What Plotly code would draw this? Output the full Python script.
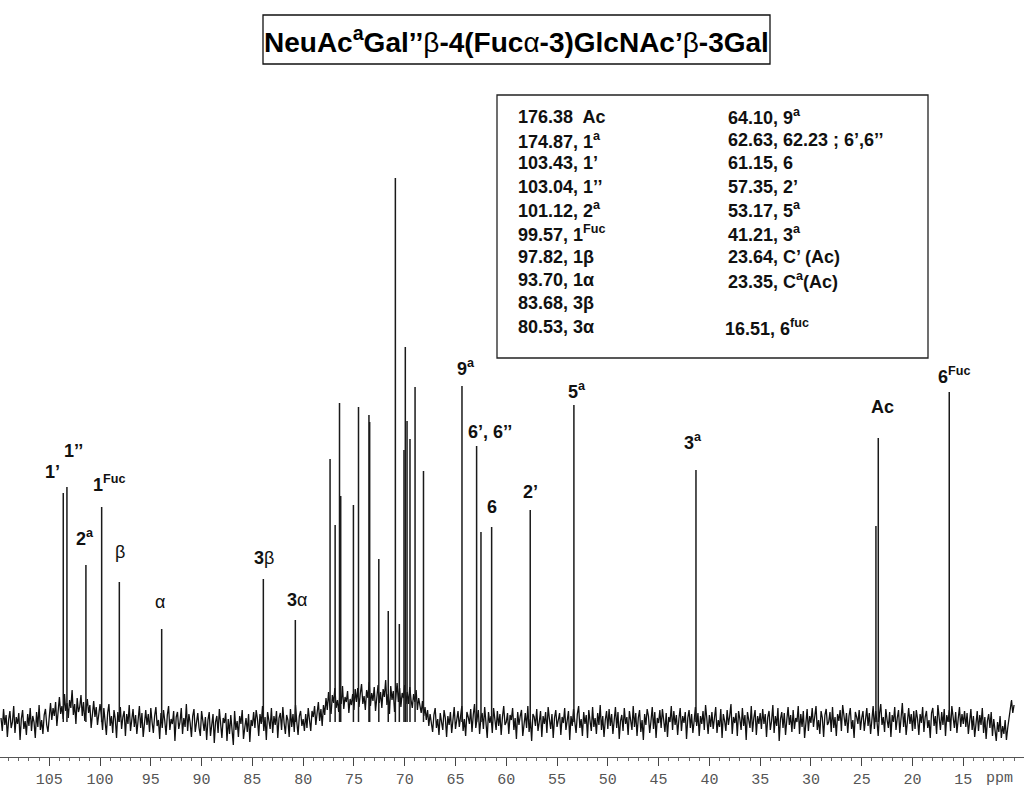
import numpy as np
import plotly.graph_objects as go

# ---------------- data ----------------
# peak positions (ppm, as drawn) and heights (intensity above baseline, arbitrary units)
peak_ppm = [103.62, 103.26, 101.39, 99.84, 98.10, 93.93, 83.92, 80.77,
            77.35, 76.85, 76.42, 76.30, 75.05, 74.55, 73.52, 73.45, 72.55, 71.62,
            70.92, 70.53, 70.07, 69.94, 69.77, 69.48, 68.98, 68.15,
            64.36, 62.92, 62.49, 61.44, 57.64, 53.34, 41.32, 23.60, 23.37, 16.38]
peak_height = [229, 235, 157, 215, 140, 93, 143, 102,
               263, 197, 319, 226, 217, 315, 307, 300, 163, 111,
               544, 98, 272, 375, 301, 283, 335, 251,
               336, 276, 190, 195, 212, 317, 252, 196, 284, 330]

# baseline noise, read every 0.125 ppm from 109.75 to 10.00 ppm
noise_start_ppm = 109.75
noise_end_ppm = 10.0
noise = [
    4, -9, 13, -3, 7, -15, 2, 11, -6, 0, 16, -11, 5, -2, 9, -18, 3, 12, -7, 1,
    -13, 8, -4, 14, -9, 6, 0, -16, 10, -5, 17, -8, 2, -12, 7, 13, -3, -10, 5, 19,
    2, 14, 6, 20, -4, 12, 25, 8, 16, 3, 28, 11, 19, 4, 22, 14, 32, 7, 18, -2,
    24, 10, 15, 27, 6, 20, 1, 13, 23, 9, 17, -6, 12, 21, 5, 15, -3, 10, 18, 7,
    -8, 14, 2, -13, 9, 18, -4, 6, -11, 12, 3, -16, 10, 0, 15, -7, 5, 11, -14, 8,
    -2, 17, -9, 4, 13, -5, 7, -12, 1, 16, -6, 9, -15, 3, 12, -3, 8, -10, 14, 0,
    -11, 6, 15, -4, 2, -17, 9, -6, 12, 1, -13, 7, 16, -8, 3, -2, 11, -19, 5, 10,
    -7, 0, 14, -12, 4, -5, 18, -9, 8, -1, -15, 6, 13, -10, 2, 9, -6, -14, 11, 3,
    -9, 5, -18, 2, 10, -14, -3, 8, -21, 0, 6, -11, 13, -7, -16, 4, -1, 9, -19, 3,
    -12, 7, -5, -23, 11, -8, 1, -15, 6, -2, 12, -17, -6, 4, -10, 8, -20, 2, -4, 10,
    -6, 12, 3, -14, 8, -2, 16, -9, 5, -18, 10, 1, -7, 14, -11, 6, -3, 11, -16, 4,
    9, -8, 15, -1, -12, 7, 2, -15, 13, -5, 8, -10, 17, 0, -13, 6, 11, -4, 3, -9,
    8, -6, 14, 2, -9, 11, 5, 16, -3, 9, 20, 1, 13, -4, 17, 7,
    24, 12, 30, 16, 8, 27, 19, 34, 14, 22, 10, 29, 18, 36, 13, 25, 20, 31, 9, 23, 17, 28, 12, 33,
    20, 34, 15, 28, 38, 18, 26, 12, 32, 24, 40, 16, 29, 21, 35, 11, 27, 37, 19, 30,
    14, 33, 25, 42, 17, 28, 8, 36, 22, 31, 10, 26, 39, 20, 34, 15, 29, 24, 37, 18,
    30, 18, 35, 22, 14, 28, 20, 32, 12, 24, 17, 9, 21, 6, 15, 2, 12, -4, 8, 1,
    -10, 7, 14, -6, 3, -13, 9, 0, -8, 12, 4, -15, 6, -3, 10, -11, 2, 15, -7, 5,
    11, -5, 8, 16, -9, 3, -14, 10, 5, -2, 13, -10, 7, 18, -6, 1, 12, -12, 4, 9,
    -7, 15, 2, -16, 10, -1, 6, -11, 14, 3, -8, 11, -4, 8, -13, 5, 16, -3, 0, 9,
    -12, 7, 2, 14, -8, 4, -17, 10, -3, 6, 12, -14, 1, 9, -6, 16, -10, 3, -19, 8,
    5, -4, 13, -9, 0, 11, -15, 6, -2, 10, -11, 15, 3, -7, 8, -16, 4, 12, -5, 1,
    9, -13, 5, -1, 14, -8, 2, 11, -18, 6, -4, 13, 0, -11, 8, 16, -6, 3, -14, 10,
    -2, 7, -16, 12, 1, -9, 15, -5, 4, -12, 9, -3, 17, -8, 6, -15, 2, 11, -7, 13,
    -4, 8, -12, 3, 15, -6, 10, -17, 1, 7, -9, 14, -2, 5, -13, 11, 0, -8, 16, -5,
    9, -14, 4, 12, -10, 2, -18, 8, -3, 13, 6, -11, 1, 15, -7, 10, -16, 4, -1, 12,
    -6, 13, 2, -10, 9, -15, 5, 0, 16, -8, 11, -3, 7, -13, 3, 14, -9, 6, -1, 10,
    -17, 4, 12, -6, 8, -11, 1, 15, -4, 9, -14, 6, -2, 11, -8, 17, 3, -12, 7, -5,
    10, -7, 4, 15, -11, 2, -5, 13, -16, 8, 1, -9, 12, -3, 6, 18, -12, 5, -1, 9,
    -14, 11, 3, -8, 14, -4, 7, -18, 10, 0, -6, 16, -10, 4, 12, -13, 6, -2, 9, -7,
    13, -2, 8, -15, 5, 11, -8, 1, 17, -11, 6, -4, 14, -19, 3, 10, -6, 9, -13, 2,
    15, -3, 7, -10, 12, -7, 4, 0, 16, -12, 8, -5, 11, -16, 3, 13, -9, 6, -1, 14,
    -5, 9, 16, -8, 2, -12, 11, 4, -15, 7, 13, -3, 0, 10, -10, 15, -6, 5, -14, 8,
    1, 12, -9, 17, 3, -4, 9, -11, 6, 14, -7, 2, -16, 10, 5, -2, 12, -8, 4, 11,
    -9, 6, 14, -4, 9, -12, 3, 16, -7, 11, 1, -14, 8, 18, -3, 5, -10, 13, 2, -6,
    10, -15, 7, 0, 15, -8, 4, 12, -11, 6, 19, -5, 9, -13, 3, 14, -2, 8, -9, 11,
    -7, 12, 3, -13, 8, -1, 15, -10, 5, 11, -6, 2, -16, 9, 14, -4, 6, -12, 17, 1,
    -8, 10, -3, 13, -14, 7, 0, 12, -9, 16, 4, -6, 10, -11, 3, 15, -5, 8, -2, 11,
    -5, 9, -12, 4, 13, -8, 6, -15, 2, 11, -9, 7, -3, 14, -11, 5, -17, 1, 8, -6,
    10, -14, 3, -7, -19, 0, -10, 6, -16, -4, -12, 2, -18, -6, 5, 15, 22, 9, 17,
]

tick_values = [105, 100, 95, 90, 85, 80, 75, 70, 65, 60, 55, 50, 45, 40, 35, 30, 25, 20, 15]
tick_labels = [str(v) for v in tick_values]

# peak labels: text, ppm, intensity
label_text = ["1’", "1’’", "1<sup>Fuc</sup>", "2<sup>a</sup>", "β", "α", "<b>3</b>β", "<b>3</b>α",
              "9<sup>a</sup>", "6’, 6’’", "6", "2’", "5<sup>a</sup>", "3<sup>a</sup>", "Ac", "6<sup>Fuc</sup>"]
label_ppm = [104.64, 102.57, 99.12, 101.44, 97.99, 94.10, 83.86, 80.56,
             63.97, 61.61, 61.41, 57.57, 53.05, 41.57, 23.0, 15.87]
label_int = [250, 271, 239, 185, 170, 120, 164, 122,
             355, 290, 215, 230, 332, 281, 315, 347]
label_bold = [True, True, True, True, False, False, False, False,
              True, True, True, True, True, True, True, True]

title_text = ("<b>NeuAc<sup>a</sup>Gal’’</b>β<b>-4(Fuc</b>α<b>-3)GlcNAc’</b>β<b>-3Gal</b>")

table_left = ["176.38  Ac", "174.87, 1<sup>a</sup>", "103.43, 1’", "103.04, 1’’", "101.12, 2<sup>a</sup>",
              "99.57, 1<sup>Fuc</sup>", "97.82, 1β", "93.70, 1α", "83.68, 3β", "80.53, 3α"]
table_right = ["64.10, 9<sup>a</sup>", "62.63, 62.23 ; 6’,6’’", "61.15, 6", "57.35, 2’", "53.17, 5<sup>a</sup>",
               "41.21, 3<sup>a</sup>", "23.64, C’ (Ac)", "23.35, C<sup>a</sup>(Ac)", "", "16.51, 6<sup>fuc</sup>"]

# ---------------- figure ----------------
W, H = 1024, 808
M_B = 51
PLOT_H = H - M_B
X_RANGE = [109.85, 9.02]
Y_RANGE = [-35, PLOT_H - 35]

def px_x(px):
    return px / W

def px_y(py):
    return 1 - py / PLOT_H

fig = go.Figure()

noise_x = np.linspace(noise_start_ppm, noise_end_ppm, len(noise))
fig.add_trace(go.Scatter(x=noise_x, y=noise, mode="lines",
                         line=dict(color="#101010", width=1.3), hoverinfo="skip"))

px_list, py_list = [], []
for p, h in zip(peak_ppm, peak_height):
    px_list += [p, p, None]
    py_list += [0, h, None]
fig.add_trace(go.Scatter(x=px_list, y=py_list, mode="lines",
                         line=dict(color="#1a1a1a", width=1.5), hoverinfo="skip"))

annotations = []
for t, xp, yi, b in zip(label_text, label_ppm, label_int, label_bold):
    annotations.append(dict(x=xp, y=yi, xref="x", yref="y", text=("<b>%s</b>" % t) if b else t,
                            showarrow=False, xanchor="center", yanchor="middle",
                            font=dict(family="Liberation Sans, Arial", size=18, color="#111")))

annotations.append(dict(x=px_x(516), y=px_y(40), xref="paper", yref="paper", text=title_text,
                        showarrow=False, xanchor="center", yanchor="middle",
                        font=dict(family="Liberation Sans, Arial", size=28, color="#000")))

row_y = [116.7, 140, 163.3, 187.0, 210, 233.3, 256.7, 280, 303.3, 327.0]
for i, (lt, rt) in enumerate(zip(table_left, table_right)):
    annotations.append(dict(x=px_x(516), y=px_y(row_y[i]), xref="paper", yref="paper",
                            text="<b>%s</b>" % lt, showarrow=False, xanchor="left", yanchor="middle",
                            font=dict(family="Liberation Sans, Arial", size=18, color="#111")))
    if rt:
        xr = 723 if i == 9 else 726
        annotations.append(dict(x=px_x(xr), y=px_y(row_y[i]), xref="paper", yref="paper",
                                text="<b>%s</b>" % rt, showarrow=False, xanchor="left", yanchor="middle",
                                font=dict(family="Liberation Sans, Arial", size=18, color="#111")))

annotations.append(dict(x=px_x(984), y=px_y(778), xref="paper", yref="paper", text="ppm",
                        showarrow=False, xanchor="left", yanchor="middle",
                        font=dict(family="Liberation Mono, monospace", size=15, color="#555")))

shapes = [
    dict(type="rect", xref="paper", yref="paper", x0=px_x(263), x1=px_x(770), y0=px_y(15), y1=px_y(64),
         line=dict(color="#111", width=1.3)),
    dict(type="rect", xref="paper", yref="paper", x0=px_x(497), x1=px_x(928), y0=px_y(95), y1=px_y(358),
         line=dict(color="#222", width=1.3)),
]

fig.update_layout(
    width=W, height=H,
    margin=dict(l=0, r=0, t=0, b=M_B, pad=0),
    paper_bgcolor="white", plot_bgcolor="white",
    showlegend=False,
    annotations=annotations,
    shapes=shapes,
    xaxis=dict(range=X_RANGE, autorange=False, tickvals=tick_values, ticktext=tick_labels,
               ticks="outside", ticklen=8, tickwidth=1, tickcolor="#444",
               showline=True, linecolor="#555", linewidth=1, showgrid=False, zeroline=False,
               tickfont=dict(family="Liberation Mono, monospace", size=15, color="#555"),
               minor=dict(dtick=1, ticks="outside", ticklen=3, tickcolor="#666", showgrid=False),
               automargin=False),
    yaxis=dict(range=Y_RANGE, autorange=False, visible=False, showgrid=False, zeroline=False,
               automargin=False),
)

fig.write_html("out.html", config={"displayModeBar": False},
               post_script="document.body.style.margin='0px';")
